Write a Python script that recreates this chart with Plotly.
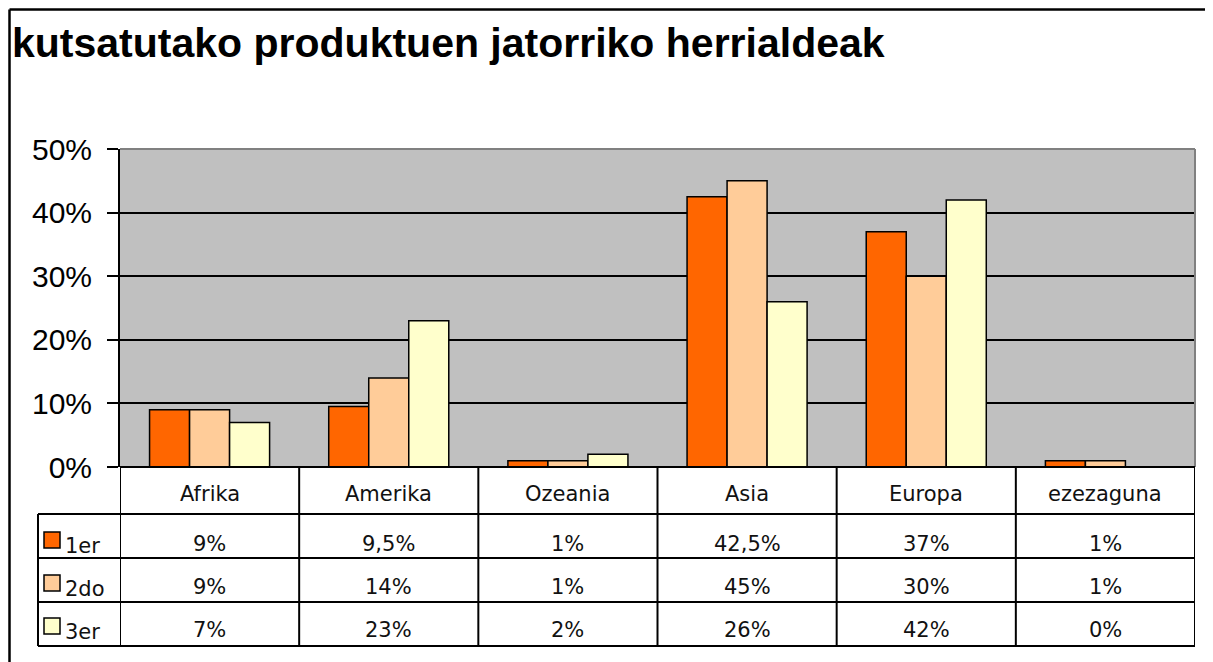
import plotly.graph_objects as go

# data
categories = ['Afrika', 'Amerika', 'Ozeania', 'Asia', 'Europa', 'ezezaguna']
series_names = ['1er', '2do', '3er']
values_1er = [9, 9.5, 1, 42.5, 37, 1]
values_2do = [9, 14, 1, 45, 30, 1]
values_3er = [7, 23, 2, 26, 42, 0]
y_ticks = [0, 10, 20, 30, 40, 50]

colors = ['#FF6600', '#FFCC99', '#FFFFCC']
series_values = [values_1er, values_2do, values_3er]

# the page body adds an 8px offset, so work in screen pixels minus 8
OFF = 8
W, H = 1213 - OFF, 662 - OFF
L, T = 120 - OFF, 149 - OFF
R = W - (1195 - OFF)
B = H - (467 - OFF)
PW, PH = W - L - R, H - T - B


def px_x(px):
    return (px - OFF - L) / PW


def px_y(py):
    return (H - B - (py - OFF)) / PH


def fmt(v):
    return f'{v:g}'.replace('.', ',') + '%'


fig = go.Figure()
for name, vals, col in zip(series_names, series_values, colors):
    fig.add_trace(go.Bar(x=categories, y=vals, name=name,
                         marker=dict(color=col, line=dict(color='black', width=1.5))))

shapes = []
annotations = []

# outer chart frame (only left + top are inside the picture)
shapes.append(dict(type='line', xref='paper', yref='paper',
                   x0=px_x(9.5), x1=px_x(1240), y0=px_y(9.5), y1=px_y(9.5),
                   line=dict(color='black', width=2.5), layer='below'))
shapes.append(dict(type='line', xref='paper', yref='paper',
                   x0=px_x(9.5), x1=px_x(9.5), y0=px_y(9.5), y1=px_y(720),
                   line=dict(color='black', width=2.5), layer='below'))

# grey top/right border of plot area
shapes.append(dict(type='line', xref='paper', yref='paper', x0=0, x1=1, y0=1, y1=1,
                   line=dict(color='#808080', width=2)))
shapes.append(dict(type='line', xref='paper', yref='paper', x0=1, x1=1, y0=0, y1=1,
                   line=dict(color='#808080', width=2)))

# data table grid
row_lines = [514, 558, 602, 646]
for py in row_lines:
    shapes.append(dict(type='line', xref='paper', yref='paper',
                       x0=px_x(38), x1=1, y0=px_y(py), y1=px_y(py),
                       line=dict(color='black', width=2)))
shapes.append(dict(type='line', xref='paper', yref='paper', x0=0, x1=1, y0=0, y1=0,
                   line=dict(color='black', width=2)))
for i in range(len(categories) + 1):
    shapes.append(dict(type='line', xref='x', yref='paper',
                       x0=i - 0.5, x1=i - 0.5, y0=0, y1=px_y(646),
                       line=dict(color='black', width=2)))
shapes.append(dict(type='line', xref='paper', yref='paper',
                   x0=px_x(38), x1=px_x(38), y0=px_y(514), y1=px_y(646),
                   line=dict(color='black', width=2)))

table_font = dict(family='DejaVu Sans', size=21, color='#111111')

# header row: category names
for i, c in enumerate(categories):
    annotations.append(dict(x=i, y=px_y(494), xref='x', yref='paper', text=c,
                            showarrow=False, font=table_font, yanchor='middle'))

# value rows with legend keys
row_centers = [544, 587, 630]
for r, (name, vals, col) in enumerate(zip(series_names, series_values, colors)):
    yc = row_centers[r]
    for i, v in enumerate(vals):
        annotations.append(dict(x=i, y=px_y(yc), xref='x', yref='paper', text=fmt(v),
                                showarrow=False, font=table_font, yanchor='middle'))
    shapes.append(dict(type='rect', xref='paper', yref='paper',
                       x0=px_x(44), x1=px_x(60), y0=px_y(yc - 12), y1=px_y(yc + 4),
                       fillcolor=col, line=dict(color='black', width=1.5)))
    annotations.append(dict(x=px_x(63), y=px_y(yc + 2), xref='paper', yref='paper', text=name,
                            showarrow=False, font=dict(family='DejaVu Sans', size=21, color='#111111'),
                            xanchor='left', yanchor='middle'))

fig.update_layout(
    width=W, height=H,
    margin=dict(l=L, r=R, t=T, b=B),
    paper_bgcolor='white',
    plot_bgcolor='#C0C0C0',
    showlegend=False,
    barmode='group', bargap=0.33, bargroupgap=0,
    title=dict(text='<b>kutsatutako produktuen jatorriko herrialdeak</b>',
               x=(12 - OFF) / W, xanchor='left', xref='container',
               y=1 - (43 - OFF) / H, yanchor='middle', yref='container',
               font=dict(family='Liberation Sans', size=41, color='black')),
    shapes=shapes,
    annotations=annotations,
)

fig.update_xaxes(range=[-0.5, len(categories) - 0.5], showticklabels=False, showgrid=False,
                 zeroline=False, showline=False)
fig.update_yaxes(range=[0, 50], tickvals=y_ticks, ticktext=[f'{t}%' for t in y_ticks],
                 showgrid=True, gridcolor='black', gridwidth=1.5, zeroline=False,
                 showline=True, linecolor='black', linewidth=2,
                 ticks='outside', ticklen=11, tickcolor='black', tickwidth=1.5,
                 ticklabelstandoff=9,
                 tickfont=dict(family='Liberation Sans', size=30, color='black'))

fig.write_html('out.html')
